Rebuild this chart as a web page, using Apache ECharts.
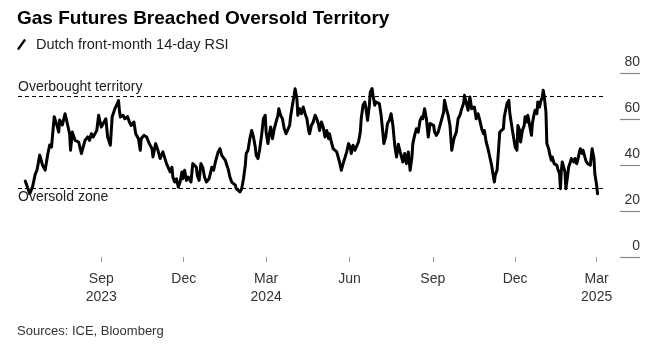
<!DOCTYPE html>
<html>
<head>
<meta charset="utf-8">
<script src="https://cdn.jsdelivr.net/npm/echarts@6/dist/echarts.min.js"></script>
<style>
html,body{margin:0;padding:0;background:#fff;}
#chart{width:650px;height:348px;}
</style>
</head>
<body>
<div id="chart"></div>
<script>
// Dates as days after 1 June 2023, and the RSI value on each date
const daysSinceJun1_2023 = [8,13,16,19,21,24,27,30,33,35,37,40,43,45,46,49,52,54,57,58,60,63,67,70,74,77,79,81,83,87,89,92,94,97,99,102,104,107,110,111,112,113,116,118,121,123,125,128,130,133,135,136,139,142,145,148,149,152,154,157,160,162,164,166,168,170,171,173,175,177,179,181,182,184,186,188,191,193,195,197,198,200,202,204,206,208,211,212,214,216,218,219,221,223,225,227,229,230,232,234,236,238,240,241,243,245,247,249,251,252,254,256,258,260,262,263,265,267,269,271,273,274,276,277,279,281,283,285,287,288,290,292,294,296,298,300,301,303,305,306,308,309,311,313,315,317,319,321,322,324,326,328,330,332,333,335,337,339,341,343,344,346,348,350,352,354,355,357,359,361,363,365,367,368,370,372,374,376,378,379,381,383,384,386,388,389,391,392,394,395,397,399,401,403,404,406,408,410,412,413,414,416,418,420,422,424,425,427,429,431,433,435,436,438,440,442,444,446,447,449,451,453,455,457,459,460,462,464,466,468,470,471,473,475,477,479,481,482,484,486,488,490,492,493,495,497,499,501,503,504,506,508,510,512,514,515,517,519,521,523,525,526,527,529,530,532,534,536,537,539,540,542,543,544,546,548,549,551,552,554,555,557,559,560,562,563,565,567,568,570,571,573,574,576,577,579,580,581,583,584,586,587,589,590,592,593,595,596,598,599,600,601,603,604,605,607,608,610,611,612,614,615,617,618,620,621,623,624,626,627,629,630,632,633,634,636,637,639,640];
const rsiValues = [33,27.5,30.4,36,37.8,44.3,40,37.8,45,48.7,47.8,61,57.2,54.3,59.6,57.4,62.3,63,53.6,46.4,54.3,50.7,50,45,50.7,52.2,50.7,53.6,52.2,55,61.6,56.5,57.2,60.1,52.2,48.6,61,64.5,67,68,63.8,60.9,61.6,60.1,61,58.7,57.2,58.7,53.6,51.4,46.4,51.4,52.9,52.2,49.3,47.1,43.5,49.3,47.1,42.8,45.7,45,40.6,41.3,37,39,34.8,32.6,34,30.4,32.6,37,34,37.7,33.3,34.8,32.6,40.6,41.3,39,35.5,33.3,40.6,39,34.8,32.6,34,33.3,39,37.7,41.3,40.6,45.7,47.1,44.2,45,42,40.6,38.4,34.8,32.6,31.9,31.2,29.7,30.4,28.3,29.7,34,39.9,45,46.4,51.4,55,52.2,47.8,44.2,42.8,47.1,52.9,60.1,61.6,54.3,49.3,52.2,56.5,51.4,55.8,58.7,61.6,64.5,61.6,60.1,55.8,53.6,54.3,57.2,61,66,70.3,73.2,68.8,61.6,64.5,62.3,65.2,62.3,60.1,55,53.6,57.2,58.7,61.6,60.1,57.2,55,58.7,56.5,52.2,55,51.4,53.6,50,47.1,47.8,45.7,45,41.3,37.7,40.6,41.3,45.7,49.3,47.8,45,48.6,46.4,45.7,50,54.3,60.1,66,67.4,65.2,59.4,66,71.7,73.2,70.3,66,67.4,66.7,66.7,61.6,53.6,49.3,52.2,58,59.4,62.3,63,57.2,48.6,43.5,49,45.7,45,41.3,45,40.6,45.7,37.7,43.5,49.3,52.9,55.8,54.3,59.4,61,60.1,64.5,60.1,52.2,58,58.7,57.2,54.3,52.9,54.3,57.2,60.1,63,68.1,64.5,61.6,57.2,46.4,50.7,52.2,54.3,60.1,61.6,64.5,66.7,70.3,71,63.8,69.6,64.5,63.8,65.2,60.1,62.3,59.4,55.8,53.6,55,50,47.1,43.5,39.9,34.8,32.6,35.5,37.7,43,54.3,55,55.8,61,61.6,66.7,68.1,63,60.1,55,54.3,47.8,46.4,57.2,55,50,55,57.2,61,58.7,61.6,57.2,52.9,58,62.3,63.8,62.3,67.4,65.2,67.4,69.6,72.5,70.3,63,49.3,47.1,45,42,43.5,40.6,41.3,39.9,38.4,36.2,29.7,37.7,41.3,42,37,29.7,35.5,39,41.3,42.8,42,41.3,42.8,40.6,42,45.7,47.1,45,46.4,45.7,42,40.6,41.3,39.9,40.6,47.1,42.8,36.2,31.2,27.5];

const tickDates = ['2023-09-01','2023-12-01','2024-03-01','2024-06-01','2024-09-01','2024-12-01','2025-03-01'];
const tickLabels = ['Sep\n2023','Dec','Mar\n2024','Jun','Sep','Dec','Mar\n2025'];
const yTicks = [0,20,40,60,80];
const thresholds = {overbought: 70, oversold: 30};
const axisStartDay = 0;   // 1 Jun 2023
const axisEndDay = 646;   // 9 Mar 2025

const DAY = 86400000;
const START = Date.UTC(2023, 5, 1);
const toTs = d => START + d * DAY;
const parseDate = s => { const p = s.split('-').map(Number); return Date.UTC(p[0], p[1]-1, p[2]); };
const tickTs = tickDates.map(parseDate);
const seriesData = daysSinceJun1_2023.map((d, i) => [toTs(d), rsiValues[i]]);

const FONT = "'Liberation Sans', Arial, sans-serif";
const chart = echarts.init(document.getElementById('chart'), null, {renderer: 'canvas'});
chart.setOption({
  animation: false,
  backgroundColor: '#fff',
  textStyle: {fontFamily: FONT},
  title: [
    {text: 'Gas Futures Breached Oversold Territory', left: 12, top: 4,
     textStyle: {fontFamily: FONT, fontSize: 19, fontWeight: 'bold', color: '#000'}},
    {text: 'Sources: ICE, Bloomberg', left: 12, top: 320,
     textStyle: {fontFamily: FONT, fontSize: 13, fontWeight: 'normal', color: '#333'}}
  ],
  legend: {
    left: 17, top: 37, padding: 0, itemWidth: 9, itemHeight: 12, itemGap: 10,
    icon: 'path://M0,11 L8,0 L10,1.6 L2,12.6 Z',
    textStyle: {fontFamily: FONT, fontSize: 14.5, color: '#222', padding: [0,0,0,5]},
    data: ['Dutch front-month 14-day RSI']
  },
  grid: {left: 18, right: 47, top: 73, bottom: 91, containLabel: false, outerBoundsMode: 'none'},
  xAxis: {
    type: 'value',
    min: toTs(axisStartDay), max: toTs(axisEndDay),
    offset: 9,
    axisLine: {show: false},
    splitLine: {show: false},
    axisTick: {show: true, length: 5, customValues: tickTs, lineStyle: {color: '#999', width: 1}},
    axisLabel: {
      customValues: tickTs, margin: 4, fontSize: 14, lineHeight: 18, color: '#333', fontFamily: FONT,
      hideOverlap: false, showMinLabel: true, showMaxLabel: true,
      formatter: v => { const i = tickTs.findIndex(t => Math.abs(t - v) < DAY); return i >= 0 ? tickLabels[i] : ''; }
    }
  },
  yAxis: {
    type: 'value', position: 'right', offset: 17,
    min: yTicks[0], max: yTicks[yTicks.length-1], interval: 20,
    axisLine: {show: false},
    splitLine: {show: false},
    axisTick: {show: true, length: 20, inside: false, lineStyle: {color: '#888', width: 1.2}},
    axisLabel: {align: 'right', margin: 20, verticalAlign: 'bottom', padding: [0,0,4,0],
                fontSize: 14, color: '#333', fontFamily: FONT}
  },
  series: [{
    name: 'Dutch front-month 14-day RSI',
    type: 'line',
    data: seriesData,
    showSymbol: false,
    symbol: 'none',
    color: '#000',
    lineStyle: {color: '#000', width: 3, join: 'round', cap: 'round'},
    markLine: {
      silent: true, symbol: 'none', animation: false,
      lineStyle: {color: '#000', width: 1, type: [4, 3]},
      label: {fontFamily: FONT, fontSize: 14, color: '#222', distance: [0, 2]},
      data: [
        {yAxis: thresholds.overbought, label: {formatter: 'Overbought territory', position: 'insideStartTop'}},
        {yAxis: thresholds.oversold, label: {formatter: 'Oversold zone', position: 'insideStartBottom'}}
      ]
    }
  }]
});
</script>
</body>
</html>
